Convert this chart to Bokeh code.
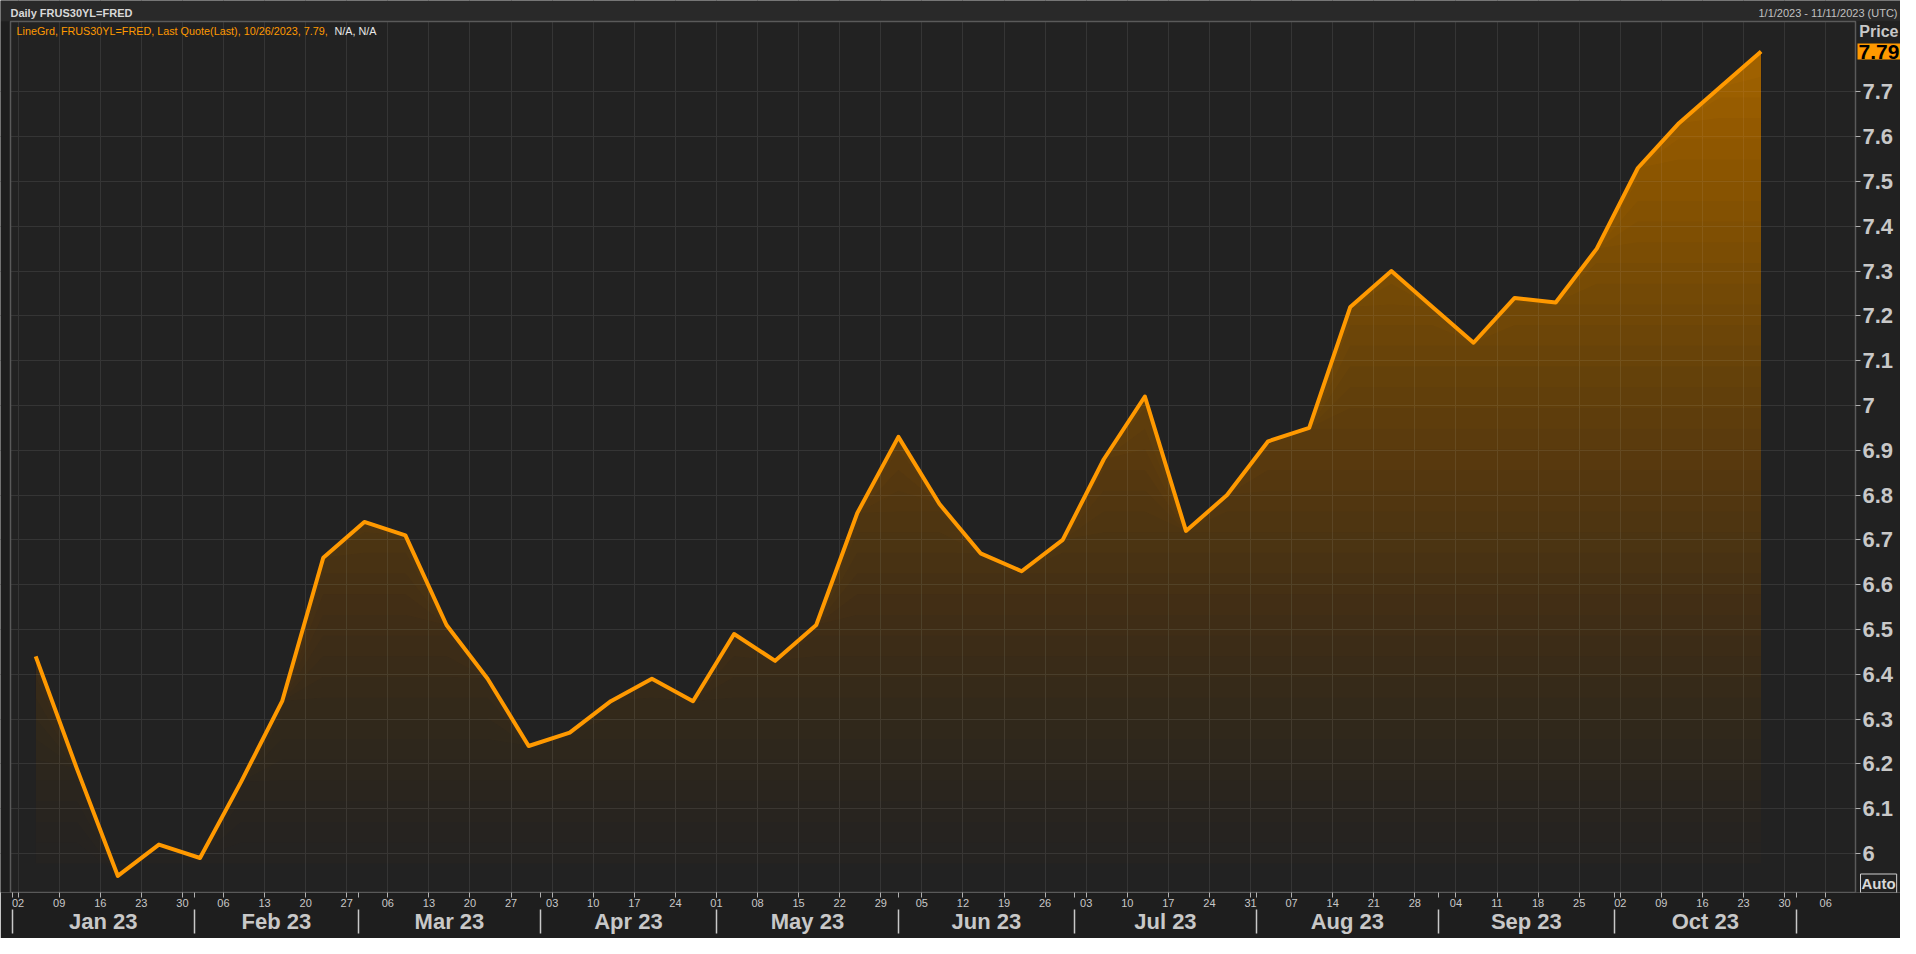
import numpy as np
import pandas as pd
from bokeh.plotting import figure
from bokeh.models import (ColumnDataSource, DatetimeAxis, LinearAxis, FixedTicker,
                          DatetimeTickFormatter, NumeralTickFormatter, Grid, Range1d, Label)
from bokeh.embed import file_html
from bokeh.resources import INLINE

# ---------------- data ----------------
week_dates = pd.date_range("2023-01-05", "2023-10-26", freq="7D")   # weekly Thursdays
rates = [6.44, 6.19, 5.95, 6.02, 5.99, 6.16, 6.34, 6.66, 6.74, 6.71,
         6.51, 6.39, 6.24, 6.27, 6.34, 6.39, 6.34, 6.49, 6.43, 6.51,
         6.76, 6.93, 6.78, 6.67, 6.63, 6.70, 6.88, 7.02, 6.72, 6.80,
         6.92, 6.95, 7.22, 7.30, 7.22, 7.14, 7.24, 7.23, 7.35, 7.53,
         7.63, 7.71, 7.79]
y_ticks = [6.0, 6.1, 6.2, 6.3, 6.4, 6.5, 6.6, 6.7, 6.8, 6.9,
           7.0, 7.1, 7.2, 7.3, 7.4, 7.5, 7.6, 7.7]
day_ticks = pd.date_range("2023-01-02", "2023-11-06", freq="7D")    # Mondays
month_starts = pd.date_range("2023-01-01", "2023-11-01", freq="MS")
last_value = rates[-1]
last_date = "10/26/2023"

header_left = "Daily FRUS30YL=FRED"
header_right = "1/1/2023 - 11/11/2023 (UTC)"
legend_main = f"LineGrd, FRUS30YL=FRED, Last Quote(Last),  {last_date}, {last_value:.2f},"
legend_na = "N/A, N/A"

EPOCH = pd.Timestamp("1970-01-01")
def ms(ts):
    return float((pd.Timestamp(ts) - EPOCH) / pd.Timedelta(milliseconds=1))

# ---------------- layout (canvas px) ----------------
W, H = 1900, 938
PL, PR, PT, PB = 10, 1855, 21, 892          # plot box inside the frame
FRAME_L, FRAME_R, FRAME_T, FRAME_B = 0, W, 0, PB
B_BOTTOM = H - PB
X0, X1 = ms("2022-12-31 17:00"), ms("2023-11-11 02:00")   # data at PL / PR
Y0, Y1 = 5.913, 7.857                                       # data at PB / PT
FILL_BASE = 5.978

def vx(px):
    return X0 + (px - PL) / (PR - PL) * (X1 - X0)

def vy(py):
    return Y0 + (PB - py) / (PB - PT) * (Y1 - Y0)

ORANGE = "#FF9900"
BG = "#222222"
BORDER = "#1e1e1e"
HEADER = "#292929"
GRID = "#353535"
TXT = "#c8c8c8"

p = figure(width=W, height=H, x_axis_type=None, y_axis_type=None,
           x_range=Range1d(vx(FRAME_L), vx(FRAME_R)),
           y_range=Range1d(vy(FRAME_B), vy(FRAME_T)),
           output_backend="svg", toolbar_location=None,
           min_border_left=0, min_border_right=0, min_border_top=0,
           min_border_bottom=B_BOTTOM,
           background_fill_color=BG, border_fill_color=BORDER,
           outline_line_color=None)
p.title.visible = False

src = ColumnDataSource(dict(x=week_dates, y=rates))

# ---------------- axes ----------------
def fmt(s):
    return DatetimeTickFormatter(microseconds=s, milliseconds=s, seconds=s, minsec=s,
                                 minutes=s, hourmin=s, hours=s, days=s, months=s, years=s)

day_axis = DatetimeAxis(ticker=FixedTicker(ticks=[ms(d) for d in day_ticks],
                                           minor_ticks=[ms(d) for d in month_starts]),
                        formatter=fmt("%d"),
                        major_tick_out=5, major_tick_in=0, minor_tick_out=5, minor_tick_in=0,
                        major_tick_line_color="#b0b0b0", minor_tick_line_color="#b0b0b0",
                        axis_line_color=None, major_label_standoff=1,
                        major_label_text_font="Liberation Sans",
                        major_label_text_font_size="11px",
                        major_label_text_color=TXT)
p.add_layout(day_axis, "below")

month_mids = [month_starts[i] + (month_starts[i + 1] - month_starts[i]) / 2
              for i in range(len(month_starts) - 1)]
month_axis = DatetimeAxis(ticker=FixedTicker(ticks=[ms(d) for d in month_mids],
                                             minor_ticks=[ms(d) for d in month_starts]),
                          formatter=fmt("%b %y"),
                          major_tick_out=0, major_tick_in=0, minor_tick_out=24, minor_tick_in=0,
                          minor_tick_line_color="#c8c8c8", minor_tick_line_width=1.5,
                          axis_line_color=None, major_label_standoff=-25,
                          major_label_text_font="Liberation Sans",
                          major_label_text_font_style="bold",
                          major_label_text_font_size="22px",
                          major_label_text_color=TXT)
p.add_layout(month_axis, "below")

y_axis = LinearAxis(ticker=FixedTicker(ticks=y_ticks), fixed_location=X1,
                    formatter=NumeralTickFormatter(format="0.[0]"),
                    major_tick_out=5, major_tick_in=0, minor_tick_out=0, minor_tick_in=0,
                    major_tick_line_color="#b0b0b0", axis_line_color=None,
                    major_label_standoff=2,
                    major_label_text_font="Liberation Sans",
                    major_label_text_font_style="bold",
                    major_label_text_font_size="22px",
                    major_label_text_color=TXT)
p.add_layout(y_axis, "right")

p.add_layout(Grid(dimension=0, ticker=day_axis.ticker, grid_line_color=GRID), "center")
p.add_layout(Grid(dimension=1, ticker=y_axis.ticker, grid_line_color=GRID), "center")

# ---------------- gradient area under the line (stacked translucent layers) ----------------
def coverage(v):
    t = min(max((v - FILL_BASE) / (7.80 - FILL_BASE), 0.0), 1.0)
    return 0.015 + 0.62 * t ** 1.2

levels = np.linspace(FILL_BASE, 7.78, 40)
rates_arr = np.array(rates)
prev_keep = 1.0
for k, a in enumerate(levels):
    keep = 1.0 - coverage(a)
    alpha = 1.0 - keep / prev_keep
    prev_keep = keep
    y1 = np.full_like(rates_arr, FILL_BASE) if k == 0 else np.minimum(rates_arr, a)
    p.varea(x=week_dates, y1=y1, y2=rates_arr, fill_color=ORANGE, fill_alpha=alpha)

# header strip and right label column (cover grid lines outside the plot box)
p.quad(left=vx(FRAME_L), right=vx(FRAME_R), bottom=vy(PT), top=vy(FRAME_T),
       fill_color=HEADER, line_color=None)
p.quad(left=X1, right=vx(FRAME_R), bottom=vy(FRAME_B), top=vy(PT),
       fill_color="#212121", line_color=None)
p.quad(left=vx(FRAME_L), right=X0, bottom=vy(FRAME_B), top=vy(PT),
       fill_color=BORDER, line_color=None)
# plot box border
p.quad(left=X0, right=X1, bottom=Y0, top=Y1, fill_color=None,
       line_color="#5a5a5a", line_width=1.5)

p.line(x="x", y="y", source=src, line_color=ORANGE, line_width=4, line_join="round")

# ---------------- texts ----------------
def lab(px, py, text, **kw):
    base = dict(x=vx(px), y=vy(py), x_units="data", y_units="data", text=text,
                text_font="Liberation Sans", text_baseline="middle")
    base.update(kw)
    p.add_layout(Label(**base))

lab(10, 12, header_left, text_font_size="11px", text_font_style="bold", text_color="#d8d8d8")
lab(1897, 12, header_right, text_font_size="11px", text_color="#c0c0c0", text_align="right")
lab(16, 30, legend_main, text_font_size="10.8px", text_color=ORANGE)
lab(334, 30, legend_na, text_font_size="10.8px", text_color="#e8e8e8")
lab(1898, 31, "Price", text_font_size="16px", text_font_style="bold", text_color=TXT,
    text_align="right")
p.add_layout(Label(x=vx(1857), y=last_value, x_units="data", y_units="data",
                   text=f"{last_value:.2f}", text_font="Liberation Sans",
                   text_font_size="21px", text_font_style="bold", text_color="black",
                   text_baseline="middle", background_fill_color=ORANGE, padding=1))
lab(1860, 883, "Auto", text_font_size="15px", text_font_style="bold", text_color="#d8d8d8",
    border_line_color="#d0d0d0", padding=1)

open("out.html", "w").write(file_html(p, INLINE))
